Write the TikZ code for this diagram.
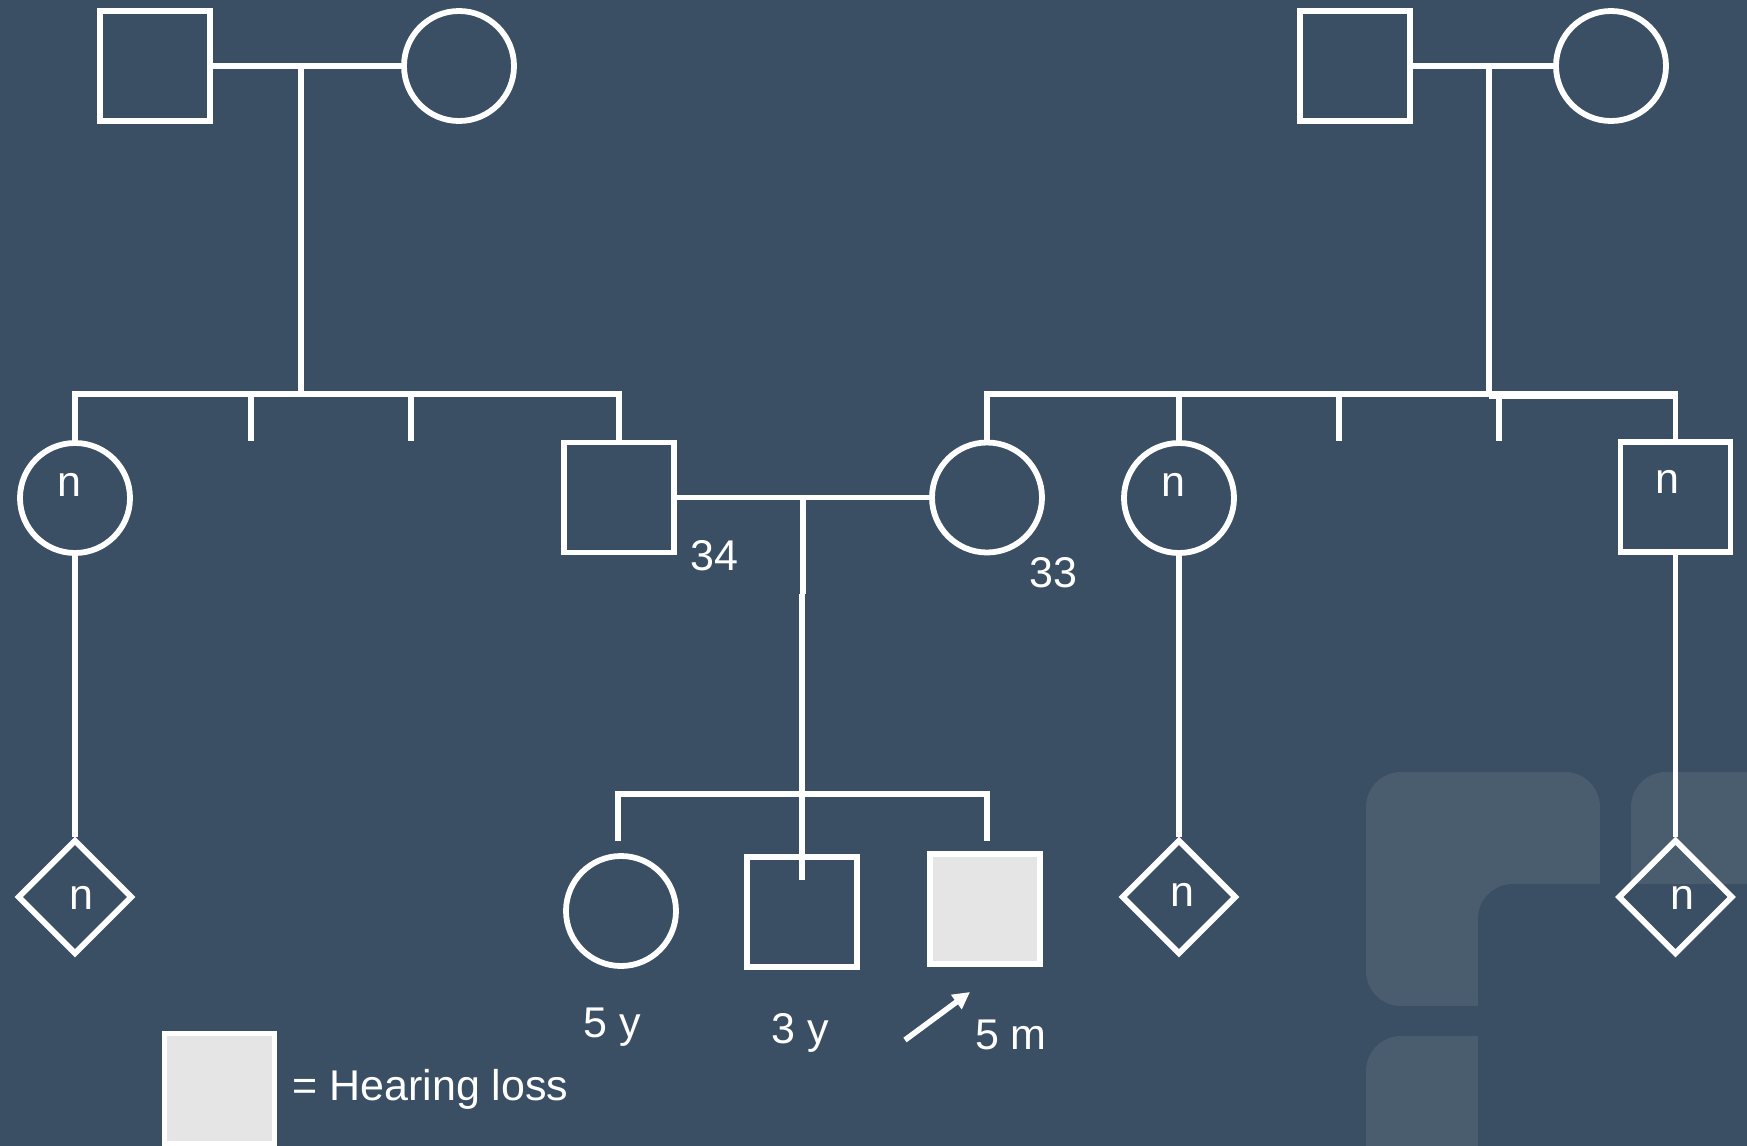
\documentclass[tikz,border=0pt]{standalone}
\usepackage{fontspec}
\setmainfont{Liberation Sans}
\usetikzlibrary{shapes.geometric,arrows.meta}
\definecolor{bg}{HTML}{3A4F63}
\definecolor{logo}{HTML}{4A5D6F}
\definecolor{aff}{HTML}{E5E5E5}
\tikzset{
  ln/.style={draw=white, line width=2.8pt},
  drop/.style={draw=white, line width=3.3pt},
  male/.style={rectangle, draw=white, line width=2.9pt, minimum size=55pt, inner sep=0pt},
  female/.style={circle, draw=white, line width=2.9pt, minimum size=55pt, inner sep=0pt},
  unk/.style={diamond, draw=white, line width=2.9pt, minimum size=57.5pt, inner sep=0pt},
  affected/.style={male, fill=aff},
  lbl/.style={text=white, font=\fontsize{21.5}{26}\selectfont, inner sep=0pt},
}
\begin{document}
\begin{tikzpicture}[x=0.5pt,y=-0.5pt]
\useasboundingbox (0,0) rectangle (1747,1146);
\fill[bg] (0,0) rectangle (1747,1146);
% background logo
\fill[logo, rounded corners=17.5pt] (1366,772) rectangle (1600,1006);
\fill[logo, rounded corners=17.5pt] (1631,772) rectangle (1820,1006);
\fill[logo, rounded corners=17.5pt] (1366,1036) rectangle (1600,1220);
\fill[bg, rounded corners=17.5pt] (1478,884) rectangle (1820,1220);

% generation I
\node[male] (gf1) at (155,66) {};
\node[female] (gm1) at (459,66) {};
\node[male] (gf2) at (1355,66) {};
\node[female] (gm2) at (1611,66) {};
% generation II
\node[female] (c1) at (75,498) {};
\node[male] (f) at (619,497.5) {};
\node[female] (m) at (987,497.5) {};
\node[female] (c2) at (1179,498) {};
\node[male] (c3) at (1675.5,497) {};
% generation III
\node[unk] (dl) at (75,897) {};
\node[unk] (dm) at (1179,897) {};
\node[unk] (dr) at (1675.5,897) {};
\node[female] (k1) at (621,911) {};
\node[male] (k2) at (802,912) {};
\node[affected] (k3) at (985,909) {};
% legend
\node[affected] (leg) at (219.5,1088.5) {};

% labels
\node[lbl] (n1) at (69,484.5) {n};
\node[lbl] (n2) at (1173,484.5) {n};
\node[lbl] (n3) at (1667,482) {n};
\node[lbl] (n4) at (81,898) {n};
\node[lbl] (n5) at (1182,895) {n};
\node[lbl] (n6) at (1682,898) {n};
\node[lbl, anchor=base] (a34) at (714.5,570) {34};
\node[lbl, anchor=base] (a33) at (1053.5,587) {33};
\node[lbl, anchor=base] (a5y) at (612,1037) {5 y};
\node[lbl, anchor=base] (a3y) at (800,1043) {3 y};
\node[lbl, anchor=base] (a5m) at (1011,1049) {5 m};
\node[lbl, anchor=base west] (legtxt) at (292,1100) {= Hearing loss};

% left family of generation I
\coordinate (j1) at (301,66);
\coordinate (s1) at (301,394);
\draw[ln] (gf1.east) -- (gm1.west);
\draw[drop] (j1) -- (s1);
\draw[ln] (c1.north) -- (c1.north |- s1) -- (f.north |- s1) -- (f.north);
\coordinate (t1) at (251,394);
\coordinate (t2) at (411,394);
\draw[ln] (t1) -- ++(0,47);
\draw[ln] (t2) -- ++(0,47);

% right family of generation I
\coordinate (j2) at (1489,66);
\coordinate (s2) at (1489,394);
\draw[ln] (gf2.east) -- (gm2.west);
\draw[drop] (j2) -- (s2);
\draw[ln] (m.north) -- (m.north |- s2) -- (c3.north |- s2) -- (c3.north);
\draw[white, line width=1.6pt] (1489,397.5) -- (1677,397.5);
\draw[ln] (c2.north) -- (c2.north |- s2);
\coordinate (t3) at (1339,394);
\coordinate (t4) at (1499,394);
\draw[ln] (t3) -- ++(0,47);
\draw[ln] (t4) -- ++(0,47);

% generation II to III
\draw[ln] (c1.south) -- (dl.north);
\draw[ln] (c2.south) -- (dm.north);
\draw[ln] (c3.south) -- (dr.north);
\draw[ln] (f.east) -- (m.west);
\coordinate (j3) at (803,497.5);
\coordinate (j3b) at (803,594);
\coordinate (j3c) at (802,594);
\coordinate (s3) at (802,794);
\draw[drop] (j3) -- (j3b);
\draw[drop] (j3c) -- (s3);
\coordinate (u1) at (618,841);
\coordinate (u3) at (987,841);
\coordinate (u2) at (802,880);
\draw[ln] (u1) -- (u1 |- s3) -- (u3 |- s3) -- (u3);
\draw[ln] (s3) -- (u2);

% proband arrow
\coordinate (p0) at (905,1040);
\coordinate (p1) at (970,992);
\draw[ln, -{Triangle[length=8.5pt,width=8.5pt]}] (p0) -- (p1);
\end{tikzpicture}
\end{document}
